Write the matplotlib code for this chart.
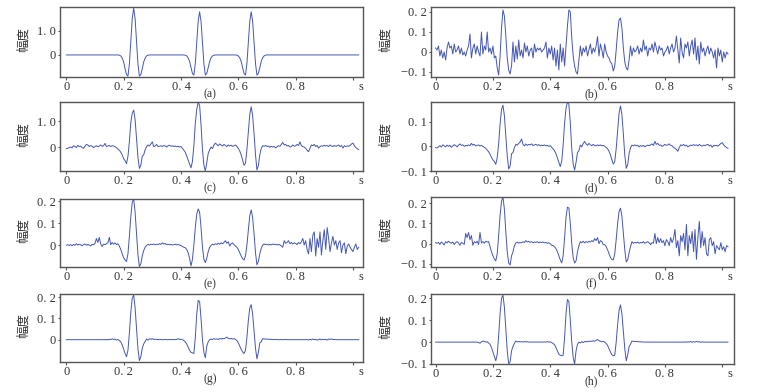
import numpy as np
import matplotlib
matplotlib.use("Agg")
import matplotlib.pyplot as plt


# sample interval of the traces (s)
DT = 0.005

TRACE_A = [
    0, 0, 0, 0, 0, 0, 0, 0, 0, 0,
    0, 0, 0, 0, 0, 0, 0, 0, 0, 0,
    0, 0, 0, 0, 0, 0, 0, 0, 0, 0,
    0, 0, 0, 0, 0, 0, 0, -0.01, -0.04, -0.13,
    -0.29, -0.57, -0.82, -0.88, -0.39, 0.55, 1.52, 1.95, 1.52, 0.55,
    -0.39, -0.88, -0.82, -0.57, -0.29, -0.13, -0.04, -0.01, 0, 0,
    0, 0, 0, 0, 0, 0, 0, 0, 0, 0,
    0, 0, 0, 0, 0, 0, 0, 0, 0, 0,
    0, 0, 0, -0.01, -0.04, -0.12, -0.27, -0.53, -0.77, -0.84,
    -0.36, 0.50, 1.40, 1.80, 1.40, 0.50, -0.36, -0.84, -0.77, -0.53,
    -0.27, -0.12, -0.04, -0.01, 0, 0, 0, 0, 0, 0,
    0, 0, 0, 0, 0, 0, 0, 0, 0, -0.01,
    -0.04, -0.12, -0.27, -0.53, -0.77, -0.84, -0.36, 0.50, 1.40, 1.80,
    1.40, 0.50, -0.36, -0.84, -0.77, -0.53, -0.27, -0.12, -0.04, -0.01,
    0, 0, 0, 0, 0, 0, 0, 0, 0, 0,
    0, 0, 0, 0, 0, 0, 0, 0, 0, 0,
    0, 0, 0, 0, 0, 0, 0, 0, 0, 0,
    0, 0, 0, 0, 0, 0, 0, 0, 0, 0,
    0, 0, 0, 0, 0, 0, 0, 0, 0, 0,
    0, 0, 0, 0, 0, 0, 0, 0, 0, 0,
    0, 0, 0, 0, 0,
]

TRACE_B = [
    0.02, 0.01, 0.03, -0.02, 0.01, -0.03, 0.00, -0.04, 0.02, 0.05,
    0.02, 0.03, -0.01, 0.04, 0.00, 0.01, 0.03, -0.01, 0.02, -0.015,
    0.00, -0.02, 0.01, 0.03, 0.09, -0.03, 0.02, 0.04, -0.01, 0.03,
    0.00, -0.02, 0.10, -0.01, 0.03, 0.01, 0.10, 0.00, 0.02, -0.01,
    0.03, -0.03, -0.02, -0.08, -0.115, -0.02, 0.12, 0.21, 0.18, 0.08,
    -0.03, -0.09, -0.11, -0.07, 0.05, -0.05, 0.03, -0.035, 0.06, -0.02,
    0.01, -0.03, 0.045, 0.00, 0.03, -0.02, 0.01, 0.02, -0.03, 0.04,
    0.00, 0.02, 0.01, 0.02, 0.00, 0.01, 0.02, 0.05, -0.03, 0.02,
    -0.01, 0.03, -0.04, 0.02, -0.07, 0.01, -0.09, 0.04, -0.05, 0.02,
    -0.07, 0.03, 0.13, 0.21, 0.20, 0.07, -0.02, -0.07, -0.10, -0.11,
    -0.04, 0.03, -0.02, 0.02, 0.00, 0.03, -0.02, 0.01, 0.04, -0.01,
    0.02, 0.00, 0.03, 0.077, -0.02, 0.04, 0.01, -0.03, 0.04, 0.00,
    -0.02, -0.03, -0.05, -0.06, -0.095, -0.07, 0.01, 0.10, 0.16, 0.17,
    0.12, 0.02, -0.05, -0.08, -0.09, -0.04, 0.03, -0.02, 0.02, 0.00,
    0.01, 0.03, -0.01, 0.02, 0.00, 0.06, 0.01, 0.03, -0.02, 0.02,
    0.01, 0.04, 0.00, 0.05, 0.02, -0.01, 0.03, 0.01, 0.02, -0.02,
    0.00, 0.01, 0.03, -0.01, 0.02, 0.04, 0.00, 0.02, 0.08, 0.01,
    -0.055, 0.07, 0.00, -0.03, 0.04, 0.02, 0.05, -0.02, 0.03, 0.06,
    -0.01, 0.07, -0.04, 0.03, -0.06, 0.05, 0.00, 0.02, -0.02, 0.01,
    0.03, -0.01, 0.02, 0.00, -0.03, 0.01, -0.08, 0.02, -0.02, 0.01,
    -0.05, 0.00, -0.03, 0.00, -0.01,
]

TRACE_C = [
    -0.06, -0.05, -0.02, 0.00, -0.03, 0.05, 0.02, -0.02, 0.06, 0.02,
    0.04, -0.02, -0.05, 0.03, 0.10, 0.08, 0.02, 0.06, 0.03, -0.02,
    0.02, 0.05, 0.01, 0.04, 0.08, 0.03, 0.05, 0.14, 0.02, 0.04,
    0.06, 0.02, 0.05, 0.04, 0.01, -0.02, -0.08, -0.12, -0.20, -0.30,
    -0.45, -0.52, -0.64, -0.36, 0.20, 0.95, 1.30, 1.42, 1.05, 0.35,
    -0.40, -0.82, -0.70, -0.35, -0.30, -0.10, 0.02, 0.08, 0.04, 0.12,
    0.20, 0.02, 0.04, 0.10, 0.02, 0.03, 0.05, 0.02, 0.06, 0.04,
    0.00, 0.05, 0.07, 0.03, 0.05, 0.02, 0.04, 0.01, 0.03, 0.00,
    0.02, -0.05, -0.12, -0.20, -0.35, -0.50, -0.65, -0.80, -0.55, 0.05,
    0.90, 1.45, 1.72, 1.60, 0.85, -0.10, -0.70, -0.92, -0.60, -0.25,
    -0.10, 0.00, -0.06, 0.08, 0.15, 0.10, 0.05, 0.12, 0.08, 0.04,
    0.10, 0.06, 0.02, 0.08, 0.04, 0.07, 0.03, 0.05, 0.08, 0.02,
    -0.05, -0.15, -0.30, -0.50, -0.70, -0.62, -0.10, 0.60, 1.25, 1.55,
    1.20, 0.50, -0.30, -0.88, -0.72, -0.30, -0.05, 0.05, 0.03, 0.06,
    0.02, 0.04, -0.01, 0.03, 0.00, 0.02, -0.03, 0.01, 0.05, 0.03,
    0.10, 0.18, 0.08, 0.10, 0.04, 0.06, 0.00, 0.02, 0.08, 0.03,
    0.05, 0.10, 0.06, 0.20, 0.05, 0.02, 0.00, -0.05, -0.12, -0.18,
    -0.05, 0.08, 0.05, 0.10, 0.02, 0.06, -0.04, 0.02, 0.05, 0.03,
    0.07, 0.04, 0.06, 0.02, 0.08, 0.04, 0.02, 0.06, 0.03, 0.05,
    0.08, 0.02, 0.06, -0.04, 0.05, 0.02, 0.04, 0.03, 0.06, 0.12,
    0.15, 0.05, -0.02, -0.06, -0.10,
]

TRACE_D = [
    -0.005, -0.006, -0.002, 0.003, -0.003, 0.006, 0.002, -0.002, 0.005, 0.000,
    0.004, -0.004, 0.002, 0.007, 0.003, -0.002, 0.005, 0.010, 0.004, 0.006,
    0.000, 0.004, 0.002, 0.006, 0.003, 0.012, 0.005, 0.008, 0.002, 0.004,
    0.006, 0.001, 0.004, 0.000, -0.004, -0.008, -0.015, -0.022, -0.032, -0.045,
    -0.055, -0.062, -0.073, -0.045, 0.010, 0.090, 0.150, 0.167, 0.125, 0.045,
    -0.040, -0.092, -0.080, -0.030, -0.025, -0.005, 0.008, 0.005, 0.012, 0.018,
    0.030, 0.008, 0.002, 0.010, 0.004, 0.008, 0.006, 0.010, 0.003, 0.006,
    0.008, 0.004, 0.007, 0.002, 0.005, 0.003, 0.006, 0.002, 0.004, 0.000,
    0.003, -0.004, -0.010, -0.018, -0.030, -0.048, -0.065, -0.082, -0.060, 0.005,
    0.095, 0.155, 0.180, 0.170, 0.095, -0.010, -0.072, -0.096, -0.065, -0.025,
    -0.018, 0.005, -0.002, 0.012, 0.020, 0.010, 0.004, 0.012, 0.006, 0.003,
    0.008, 0.004, 0.002, 0.006, 0.003, 0.006, 0.002, 0.004, 0.000, -0.004,
    -0.010, -0.020, -0.035, -0.055, -0.072, -0.062, -0.010, 0.065, 0.135, 0.164,
    0.128, 0.050, -0.035, -0.089, -0.075, -0.030, -0.005, 0.005, 0.002, 0.006,
    0.002, 0.004, -0.002, 0.003, 0.000, 0.004, -0.002, 0.002, 0.005, 0.003,
    0.006, 0.010, 0.004, 0.020, 0.008, 0.012, 0.004, 0.006, 0.000, 0.003,
    0.008, 0.004, 0.006, 0.010, 0.004, 0.002, -0.004, -0.008, -0.012, -0.020,
    -0.005, 0.006, 0.003, 0.008, 0.002, 0.005, -0.002, 0.002, 0.005, 0.003,
    0.007, 0.004, 0.006, 0.002, 0.008, 0.003, 0.001, 0.005, 0.003, 0.006,
    0.008, 0.002, 0.005, -0.004, 0.004, 0.002, 0.004, 0.001, 0.006, 0.012,
    0.015, 0.006, 0.000, -0.005, -0.008,
]

TRACE_E = [
    0.000, 0.001, -0.002, 0.002, -0.003, 0.003, -0.001, 0.006, 0.000, 0.004,
    0.001, -0.003, 0.002, 0.005, -0.001, 0.003, 0.000, -0.004, 0.003, 0.001,
    0.008, 0.030, 0.012, 0.035, 0.005, -0.006, 0.004, 0.002, 0.006, 0.010,
    0.035, 0.002, 0.012, 0.004, 0.010, 0.002, 0.006, -0.005, -0.020, -0.040,
    -0.058, -0.068, -0.075, -0.040, 0.040, 0.130, 0.195, 0.210, 0.150, 0.050,
    -0.045, -0.098, -0.085, -0.050, -0.025, -0.010, -0.002, 0.003, 0.000, 0.004,
    0.002, 0.005, 0.001, 0.004, 0.002, 0.006, 0.003, 0.010, 0.005, 0.007,
    0.002, 0.004, 0.001, 0.003, 0.000, 0.002, 0.004, 0.001, 0.003, 0.000,
    -0.002, -0.006, -0.010, -0.012, -0.020, -0.035, -0.060, -0.095, -0.065, 0.000,
    0.080, 0.140, 0.165, 0.150, 0.080, -0.010, -0.065, -0.080, -0.060, -0.030,
    -0.010, -0.002, 0.004, 0.001, 0.006, 0.003, 0.008, 0.004, 0.010, 0.006,
    0.012, 0.020, 0.008, 0.015, -0.004, 0.006, 0.010, 0.002, -0.005, -0.010,
    -0.020, -0.035, -0.050, -0.062, -0.068, -0.050, 0.000, 0.070, 0.135, 0.160,
    0.125, 0.050, -0.035, -0.090, -0.075, -0.040, -0.015, 0.000, 0.005, 0.002,
    0.004, 0.000, 0.003, 0.001, 0.005, 0.002, 0.004, 0.000, 0.003, 0.001,
    -0.004, -0.010, 0.020, 0.008, 0.012, 0.020, 0.006, 0.012, 0.005, 0.010,
    0.008, 0.002, 0.012, 0.006, 0.015, 0.030, 0.000, 0.020, -0.020, -0.040,
    0.030, -0.030, 0.045, 0.060, -0.050, 0.030, -0.010, 0.060, -0.045, 0.020,
    0.070, -0.020, 0.080, 0.030, -0.030, 0.010, 0.040, 0.000, 0.020, -0.020,
    0.010, 0.020, -0.035, 0.000, 0.010, -0.040, -0.005, 0.005, -0.010, -0.020,
    -0.030, -0.010, 0.005, -0.020, -0.010,
]

TRACE_F = [
    0.005, 0.002, 0.006, -0.004, 0.008, 0.002, -0.006, 0.010, 0.004, 0.012,
    0.006, 0.002, 0.008, -0.004, 0.005, 0.010, 0.004, -0.008, 0.006, 0.002,
    -0.004, 0.050, 0.030, 0.055, 0.020, 0.040, -0.008, 0.010, 0.004, 0.012,
    -0.004, 0.055, 0.004, 0.010, 0.002, 0.012, 0.008, 0.010, -0.015, -0.040,
    -0.060, -0.075, -0.085, -0.050, 0.040, 0.140, 0.210, 0.230, 0.170, 0.060,
    -0.040, -0.095, -0.105, -0.060, -0.040, -0.010, 0.004, 0.008, 0.002, 0.006,
    0.004, 0.010, 0.006, 0.015, 0.008, 0.012, 0.006, 0.010, 0.004, 0.008,
    0.006, 0.010, 0.004, 0.008, 0.006, 0.008, 0.004, 0.006, 0.002, 0.004,
    0.000, -0.008, -0.010, -0.015, -0.025, -0.040, -0.060, -0.080, -0.095, -0.060,
    0.030, 0.130, 0.180, 0.175, 0.100, 0.000, -0.070, -0.095, -0.085, -0.040,
    -0.010, 0.010, 0.005, 0.012, 0.004, 0.010, 0.006, 0.012, 0.008, 0.015,
    0.010, 0.025, 0.015, 0.030, 0.000, 0.015, 0.010, -0.005, -0.005, -0.015,
    -0.030, -0.050, -0.068, -0.078, -0.080, -0.050, 0.020, 0.100, 0.158, 0.175,
    0.135, 0.055, -0.030, -0.090, -0.080, -0.045, -0.015, 0.010, 0.002, 0.006,
    0.003, 0.008, 0.002, 0.006, 0.004, 0.010, 0.002, 0.006, 0.010, 0.004,
    -0.005, 0.005, 0.002, 0.050, 0.000, 0.030, 0.005, 0.025, 0.005, 0.015,
    -0.010, 0.020, 0.010, -0.010, 0.030, 0.005, 0.025, 0.070, -0.020, 0.015,
    -0.060, 0.040, 0.010, 0.050, -0.030, 0.095, -0.060, 0.040, 0.000, 0.060,
    -0.040, 0.070, -0.077, 0.030, 0.110, -0.020, 0.060, -0.010, 0.030, -0.050,
    -0.060, 0.020, 0.030, -0.010, 0.010, -0.050, -0.010, -0.020, -0.030, 0.005,
    -0.030, -0.015, -0.040, -0.010, -0.015,
]

TRACE_G = [
    0, 0, 0, 0, 0, 0, 0, 0, 0, 0,
    0, 0, 0, 0, 0, 0, 0, 0, 0, 0,
    0, 0, 0, 0, 0, 0, 0, 0, 0.001, -0.001,
    0.002, 0.000, 0.004, 0.001, 0.003, -0.002, 0.001, -0.004, -0.010, -0.025,
    -0.045, -0.065, -0.080, -0.050, 0.030, 0.130, 0.195, 0.210, 0.150, 0.050,
    -0.045, -0.098, -0.080, -0.040, -0.020, -0.008, 0.003, -0.002, 0.004, 0.002,
    0.005, 0.001, 0.003, 0.000, 0.001, 0.000, 0.001, 0.000, 0.000, 0.001,
    0.000, 0.000, 0.001, 0.000, 0.000, 0.001, 0.000, 0.001, 0.005, 0.001,
    0.002, 0.000, -0.004, -0.010, -0.020, -0.035, -0.050, -0.060, -0.062, -0.065,
    0.010, 0.120, 0.185, 0.180, 0.100, 0.000, -0.060, -0.085, -0.030, -0.010,
    0.000, 0.003, 0.001, 0.005, 0.002, 0.004, 0.001, 0.005, 0.003, 0.006,
    0.004, 0.008, 0.012, 0.006, 0.004, 0.006, 0.003, 0.005, 0.002, -0.005,
    -0.015, -0.030, -0.045, -0.058, -0.065, -0.050, 0.010, 0.090, 0.150, 0.165,
    0.120, 0.040, -0.040, -0.090, -0.060, -0.015, -0.010, 0.005, 0.003, 0.004,
    0.002, 0.003, 0.001, 0.002, 0.000, 0.001, 0.000, 0.001, 0.000, 0.000,
    0.001, 0, 0, 0.001, 0, 0, 0, 0, 0, 0,
    0, 0, 0, 0, 0, 0, 0, 0, 0.001, -0.002,
    0.002, -0.001, 0.003, 0.000, 0.002, -0.002, 0.001, 0.003, -0.001, 0.002,
    0.000, 0.002, -0.002, 0.003, 0.001, 0.004, 0.000, 0.001, 0, 0,
    0, 0, 0, 0, 0, 0, 0, 0, 0, 0,
    0, 0, 0, 0, 0,
]

TRACE_H = [
    0, 0, 0, 0, 0, 0, 0, 0, 0, 0,
    0, 0, 0, 0, 0, 0, 0, 0, 0, 0,
    0, 0, 0, 0, 0, 0, 0, 0, 0, 0,
    -0.002, -0.005, 0.002, 0.005, 0.004, 0.000, 0.002, -0.004, -0.010, -0.025,
    -0.045, -0.065, -0.085, -0.055, 0.030, 0.130, 0.200, 0.215, 0.160, 0.060,
    -0.040, -0.100, -0.090, -0.040, -0.020, -0.005, 0.005, 0.001, 0.003, 0.001,
    0.002, 0.000, 0.003, 0.001, 0.002, 0.000, 0.001, 0.000, 0.001, 0.000,
    0.000, 0.001, 0.000, 0.001, 0.000, 0.000, 0.001, 0.000, 0.002, 0.000,
    0.001, -0.002, -0.006, -0.012, -0.025, -0.040, -0.055, -0.060, -0.062, -0.060,
    0.020, 0.130, 0.195, 0.185, 0.100, 0.000, -0.070, -0.100, -0.040, -0.010,
    0.000, -0.004, 0.002, -0.002, 0.003, 0.001, 0.004, 0.002, 0.005, 0.003,
    0.006, 0.004, 0.008, 0.012, 0.006, 0.004, 0.002, 0.003, 0.000, -0.006,
    -0.015, -0.030, -0.045, -0.058, -0.062, -0.060, 0.000, 0.080, 0.145, 0.170,
    0.130, 0.050, -0.030, -0.085, -0.060, -0.020, -0.010, 0.005, 0.003, 0.004,
    0.002, 0.003, 0.001, 0.002, 0.000, 0.001, 0, 0, 0, 0,
    0, 0, 0, 0, 0, 0, 0, 0, 0, 0,
    0, 0, 0, 0, 0, 0, 0, 0, 0, 0,
    0, 0, 0, 0, 0.001, -0.001, 0.002, 0.000, 0.003, -0.001,
    0.002, 0.000, 0.003, 0.001, 0.002, -0.001, 0.001, 0, 0, 0,
    0, 0, 0, 0, 0, 0, 0, 0, 0, 0,
    0, 0, 0, 0, 0,
]

TRACES = [TRACE_A, TRACE_B, TRACE_C, TRACE_D, TRACE_E, TRACE_F, TRACE_G, TRACE_H]
PANEL_NAMES = ["(a)", "(b)", "(c)", "(d)", "(e)", "(f)", "(g)", "(h)"]
Y_LABEL = "幅度"

X_TICKS = [0, 0.2, 0.4, 0.6, 0.8, 1.0]
X_TICK_LABELS = ["0", "0. 2", "0. 4", "0. 6", "0. 8", ""]
X_UNIT = "s"

Y_TICKS = [
    [0, 1.0],
    [-0.1, 0, 0.1, 0.2],
    [0, 1.0],
    [-0.1, 0, 0.1],
    [0, 0.1, 0.2],
    [-0.1, 0, 0.1, 0.2],
    [0, 0.1, 0.2],
    [-0.1, 0, 0.1, 0.2],
]
Y_TICK_TEXT = {1.0: "1. 0", 0.2: "0. 2", 0.1: "0. 1", 0: "0", -0.1: "\u22120. 1"}

Y_LIMITS = [
    (-0.92, 2.0), (-0.125, 0.225),
    (-0.92, 1.73), (-0.10, 0.18),
    (-0.10, 0.21), (-0.115, 0.23),
    (-0.105, 0.215), (-0.10, 0.22),
]

# axes boxes in pixels: left, top, right, bottom
BOXES = [
    (60, 7, 363, 77), (431, 7, 734, 77),
    (60, 102, 363, 171), (431, 102, 734, 171),
    (60, 199, 363, 267), (431, 197, 734, 267),
    (60, 294, 363, 362), (431, 294, 734, 364),
]
X_LIMITS = [(-0.022, 1.035), (-0.016, 1.041)]

W, H = 770, 392
LINE_COLOR = "#4456b4"
FRAME_COLOR = "#555555"
TEXT_COLOR = "#333333"
NUM_FONT = ["Liberation Serif", "DejaVu Serif"]
CJK_FONT = ["Noto Sans CJK SC", "DejaVu Sans"]

fig = plt.figure(figsize=(W / 100, H / 100), dpi=100)

for k, vals in enumerate(TRACES):
    x0, y0, x1, y1 = BOXES[k]
    ax = fig.add_axes([x0 / W, 1 - y1 / H, (x1 - x0) / W, (y1 - y0) / H])
    col = k % 2
    t = np.arange(len(vals)) * DT
    ax.plot(t, vals, color=LINE_COLOR, lw=0.7)

    ax.set_xlim(*X_LIMITS[col])
    ax.set_ylim(*Y_LIMITS[k])
    ax.set_xticks(X_TICKS)
    ax.set_xticklabels(X_TICK_LABELS, family=NUM_FONT, fontsize=9, color=TEXT_COLOR)
    ax.set_yticks(Y_TICKS[k])
    ax.set_yticklabels([Y_TICK_TEXT[v] for v in Y_TICKS[k]],
                       family=NUM_FONT, fontsize=9, color=TEXT_COLOR)
    ax.tick_params(direction="out", length=1.8, width=0.8, pad=1, color=FRAME_COLOR)
    for sp in ax.spines.values():
        sp.set_color(FRAME_COLOR)
        sp.set_linewidth(1.0)

    ax.annotate(X_UNIT, xy=(1.028, 0), xycoords=("data", "axes fraction"),
                xytext=(0, -2.8), textcoords="offset points", ha="center", va="top",
                family=NUM_FONT, fontsize=9, color=TEXT_COLOR)

    ax.set_ylabel(Y_LABEL, family=CJK_FONT, fontsize=9, color=TEXT_COLOR)
    ax.yaxis.set_label_coords(-0.099 if col == 0 else -0.129, 0.53)

    ax.annotate(PANEL_NAMES[k], xy=(0.495 if col == 0 else 0.53, 0),
                xycoords="axes fraction", xytext=(0, -12.5), textcoords="offset points",
                ha="center", va="center", family=NUM_FONT, fontsize=8.5,
                color=TEXT_COLOR)

fig.savefig("out.png", dpi=100, facecolor="white")
